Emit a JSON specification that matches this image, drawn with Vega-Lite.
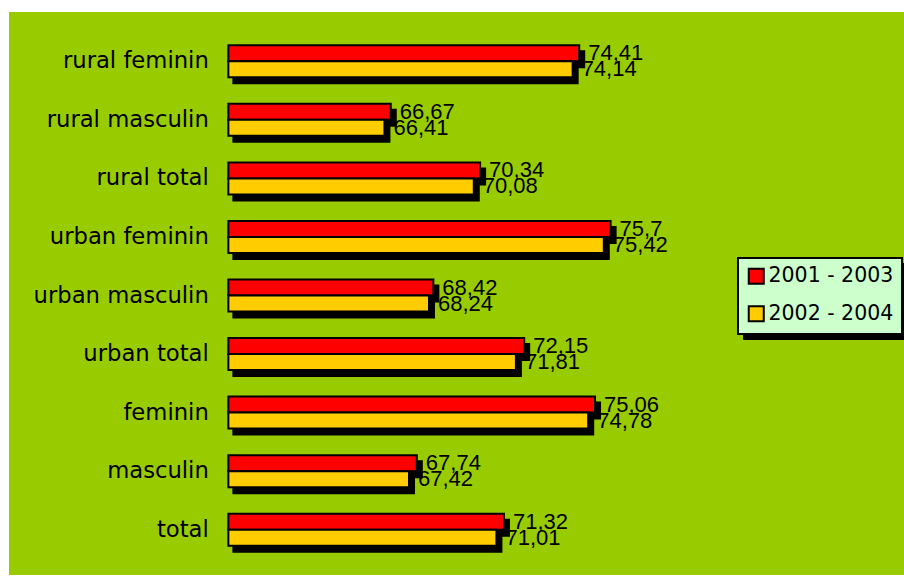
{
  "$schema": "https://vega.github.io/schema/vega-lite/v6.json",
  "width": 895,
  "height": 563,
  "autosize": {"type": "none"},
  "padding": {"left": 9, "top": 12, "right": 0, "bottom": 1},
  "background": "white",
  "config": {
    "view": {"fill": "#99CC00", "stroke": null},
    "locale": {"number": {"decimal": ",", "thousands": ".", "grouping": [3], "currency": ["", ""]}}
  },
  "data": {
    "values": [
      {"category": "rural feminin", "period": "2001 - 2003", "value": 74.41},
      {"category": "rural feminin", "period": "2002 - 2004", "value": 74.14},
      {"category": "rural masculin", "period": "2001 - 2003", "value": 66.67},
      {"category": "rural masculin", "period": "2002 - 2004", "value": 66.41},
      {"category": "rural total", "period": "2001 - 2003", "value": 70.34},
      {"category": "rural total", "period": "2002 - 2004", "value": 70.08},
      {"category": "urban feminin", "period": "2001 - 2003", "value": 75.7},
      {"category": "urban feminin", "period": "2002 - 2004", "value": 75.42},
      {"category": "urban masculin", "period": "2001 - 2003", "value": 68.42},
      {"category": "urban masculin", "period": "2002 - 2004", "value": 68.24},
      {"category": "urban total", "period": "2001 - 2003", "value": 72.15},
      {"category": "urban total", "period": "2002 - 2004", "value": 71.81},
      {"category": "feminin", "period": "2001 - 2003", "value": 75.06},
      {"category": "feminin", "period": "2002 - 2004", "value": 74.78},
      {"category": "masculin", "period": "2001 - 2003", "value": 67.74},
      {"category": "masculin", "period": "2002 - 2004", "value": 67.42},
      {"category": "total", "period": "2001 - 2003", "value": 71.32},
      {"category": "total", "period": "2002 - 2004", "value": 71.01}
    ]
  },
  "encoding": {
    "y": {
      "field": "category",
      "type": "nominal",
      "sort": ["rural feminin", "rural masculin", "rural total", "urban feminin", "urban masculin", "urban total", "feminin", "masculin", "total"],
      "scale": {"range": [20, 547], "paddingInner": 0, "paddingOuter": 0},
      "axis": {"title": null, "domain": false, "ticks": false, "grid": false, "labelPadding": 20, "offset": -219.3, "labelFont": "DejaVu Sans", "labelFontSize": 22.7, "labelColor": "black"}
    },
    "x": {
      "field": "value",
      "type": "quantitative",
      "scale": {"domain": [50.99, 87.75], "zero": false, "nice": false},
      "axis": null
    }
  },
  "layer": [
    {
      "transform": [{"filter": "datum.period == '2001 - 2003'"}],
      "mark": {"type": "bar", "height": 16, "yOffset": -2, "xOffset": 5, "x2Offset": 5, "stroke": "black", "strokeWidth": 2},
      "encoding": {
        "x2": {"datum": 60},
        "fill": {
          "field": "value",
          "type": "quantitative",
          "scale": {"range": ["black", "black"]},
          "legend": {
            "type": "gradient",
            "direction": "horizontal",
            "title": null,
            "orient": "none",
            "legendX": 734,
            "legendY": 251,
            "zindex": 0,
            "fillColor": "black",
            "strokeColor": "black",
            "padding": 8,
            "gradientLength": 147,
            "gradientThickness": 59,
            "gradientStrokeWidth": 0,
            "labelExpr": "''",
            "labelFontSize": 1,
            "labelOffset": 0,
            "tickCount": 2
          }
        }
      }
    },
    {
      "transform": [{"filter": "datum.period == '2002 - 2004'"}],
      "mark": {"type": "bar", "height": 16, "yOffset": 14, "xOffset": 5, "x2Offset": 5, "stroke": "black", "strokeWidth": 2},
      "encoding": {"x2": {"datum": 60}, "fill": {"field": "value", "type": "quantitative"}}
    },
    {
      "transform": [{"filter": "datum.period == '2001 - 2003'"}],
      "mark": {"type": "bar", "height": 16, "yOffset": -8, "stroke": "black", "strokeWidth": 2},
      "encoding": {
        "x2": {"datum": 60},
        "color": {
          "field": "period",
          "type": "nominal",
          "scale": {"domain": ["2001 - 2003", "2002 - 2004"], "range": ["#FF0000", "#FFCC00"]},
          "legend": {
            "title": null,
            "orient": "none",
            "legendX": 729,
            "legendY": 246,
            "zindex": 1,
            "fillColor": "#CCFFCC",
            "strokeColor": "black",
            "padding": 8,
            "rowPadding": 13.5,
            "symbolType": "square",
            "symbolSize": 225,
            "symbolStrokeColor": "black",
            "symbolStrokeWidth": 2,
            "symbolOpacity": 1,
            "labelFont": "DejaVu Sans",
            "labelFontSize": 20.5,
            "labelColor": "black",
            "labelOffset": 2,
            "encode": {
              "legend": {"update": {"strokeWidth": {"value": 2}}},
              "symbols": {"update": {"stroke": {"value": "black"}, "strokeWidth": {"value": 2}}}
            }
          }
        }
      }
    },
    {
      "transform": [{"filter": "datum.period == '2002 - 2004'"}],
      "mark": {"type": "bar", "height": 16, "yOffset": 8, "stroke": "black", "strokeWidth": 2},
      "encoding": {
        "x2": {"datum": 60},
        "color": {"field": "period", "type": "nominal"}
      }
    },
    {
      "transform": [{"filter": "datum.period == '2001 - 2003'"}],
      "mark": {"type": "text", "align": "left", "baseline": "middle", "dx": 9, "yOffset": -8, "font": "Liberation Sans", "fontSize": 22, "color": "black"},
      "encoding": {"text": {"field": "value", "type": "quantitative", "format": ".2~f"}}
    },
    {
      "transform": [{"filter": "datum.period == '2002 - 2004'"}],
      "mark": {"type": "text", "align": "left", "baseline": "middle", "dx": 9, "yOffset": 8, "font": "Liberation Sans", "fontSize": 22, "color": "black"},
      "encoding": {"text": {"field": "value", "type": "quantitative", "format": ".2~f"}}
    }
  ]
}
